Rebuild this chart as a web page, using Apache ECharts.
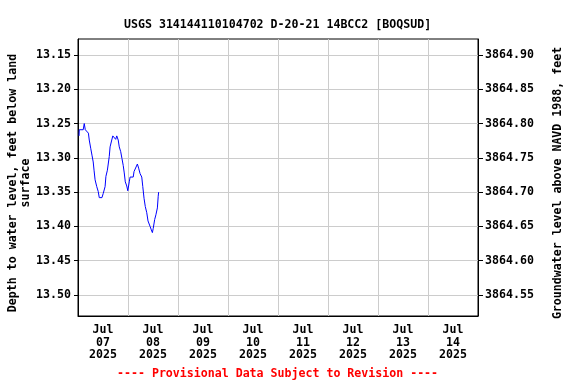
<!DOCTYPE html>
<html><head><meta charset="utf-8">
<script src="https://cdn.jsdelivr.net/npm/echarts@6/dist/echarts.min.js"></script>
<style>html,body{margin:0;padding:0;background:#fff}#c{width:576px;height:384px}</style>
</head><body><div id="c"></div>
<script>
// Data (hours after 2025-07-07 00:00, depth in feet below land surface)
const hours = [0.5,0.6,2.5,3.0,3.5,5.0,5.4,6.1,6.7,7.3,7.7,8.2,9.0,9.7,10.2,11.5,12.1,13.0,13.4,14.1,15.0,15.4,16.2,16.7,17.4,18.1,18.6,19.3,19.8,20.5,21.1,21.7,22.2,22.7,23.4,23.9,24.6,25.0,26.5,26.9,27.8,28.5,29.1,29.8,30.6,31.1,31.7,32.3,33.0,33.6,34.6,35.2,35.7,36.1,36.8,37.4,38.1,38.5,38.7];
const depth = [13.268,13.259,13.259,13.250,13.259,13.264,13.274,13.286,13.296,13.306,13.318,13.332,13.342,13.349,13.358,13.358,13.352,13.342,13.327,13.318,13.298,13.284,13.274,13.268,13.268,13.273,13.268,13.274,13.284,13.291,13.301,13.311,13.322,13.335,13.341,13.348,13.335,13.328,13.328,13.320,13.318,13.309,13.315,13.323,13.328,13.342,13.359,13.371,13.380,13.392,13.400,13.405,13.409,13.403,13.390,13.383,13.373,13.356,13.350];
const dayLabels = ['Jul\n07\n2025','Jul\n08\n2025','Jul\n09\n2025','Jul\n10\n2025','Jul\n11\n2025','Jul\n12\n2025','Jul\n13\n2025','Jul\n14\n2025'];
const leftTicks = [13.15,13.20,13.25,13.30,13.35,13.40,13.45,13.50];
const rightTicks = [3864.55,3864.60,3864.65,3864.70,3864.75,3864.80,3864.85,3864.90];
const datumOffset = 3878.05;
const yMin = 13.1267, yMax = 13.5306;
const leftNameLines = ['Depth to water level, feet below land','surface'];
const rightName = 'Groundwater level above NAVD 1988, feet';

const base = Date.UTC(2025,6,7,0,0,0);
const seriesData = hours.map((h,i)=>[base + h*3600000, depth[i]]);
const FONT = 'DejaVu Sans Mono';
const FS = 11.6;
const F = 'bold ' + FS + 'px "DejaVu Sans Mono"';
const chart = echarts.init(document.getElementById('c'), null, {renderer:'canvas'});
chart.setOption({
  animation:false,
  useUTC:true,
  title:{text:'USGS 314144110104702 D-20-21 14BCC2 [BOQSUD]',left:119,top:14,
    textStyle:{fontFamily:FONT,fontSize:FS,fontWeight:'bold',color:'#000'}},
  grid:{left:78,right:98,top:39,bottom:68,show:true,borderColor:'#000',borderWidth:1,backgroundColor:'#fff',outerBoundsMode:'none',containLabel:false},
  xAxis:[
    {type:'category',data:dayLabels,boundaryGap:true,
      axisLine:{lineStyle:{color:'#000'}},
      axisTick:{show:false},
      axisLabel:{fontFamily:FONT,fontSize:FS,fontWeight:'bold',color:'#000',lineHeight:12.5,margin:8},
      splitLine:{show:true,lineStyle:{color:'#cccccc',width:1}}},
    {type:'time',show:false,min:base,max:base+8*86400000}
  ],
  yAxis:[
    {type:'value',inverse:true,min:yMin,max:yMax,position:'left',
      axisLine:{show:true,lineStyle:{color:'#000'}},
      axisTick:{show:true,length:4,customValues:leftTicks,lineStyle:{color:'#000'}},
      axisLabel:{customValues:leftTicks,formatter:v=>v.toFixed(2),fontFamily:FONT,fontSize:FS,fontWeight:'bold',color:'#000',margin:7},
      splitLine:{show:true,lineStyle:{color:'#cccccc',width:1}}},
    {type:'value',min:datumOffset-yMax,max:datumOffset-yMin,position:'right',
      axisLine:{show:true,lineStyle:{color:'#000'}},
      axisTick:{show:true,length:5,customValues:rightTicks,lineStyle:{color:'#000'}},
      axisLabel:{customValues:rightTicks,formatter:v=>v.toFixed(2),fontFamily:FONT,fontSize:FS,fontWeight:'bold',color:'#000',margin:7},
      splitLine:{show:false}}
  ],
  graphic:[
    {type:'text',x:12.5,y:183,rotation:Math.PI/2,style:{text:leftNameLines[0],font:F,fill:'#000',align:'center',verticalAlign:'middle'}},
    {type:'text',x:26,y:183,rotation:Math.PI/2,style:{text:leftNameLines[1],font:F,fill:'#000',align:'center',verticalAlign:'middle'}},
    {type:'text',x:557.5,y:183,rotation:Math.PI/2,style:{text:rightName,font:F,fill:'#000',align:'center',verticalAlign:'middle'}},
    {type:'text',left:117,top:368,style:{text:'---- Provisional Data Subject to Revision ----',fill:'#ff0000',font:F}}
  ],
  series:[{type:'line',xAxisIndex:1,yAxisIndex:0,data:seriesData,showSymbol:false,
    lineStyle:{color:'#0000ff',width:1},itemStyle:{color:'#0000ff'}}]
});
</script></body></html>
